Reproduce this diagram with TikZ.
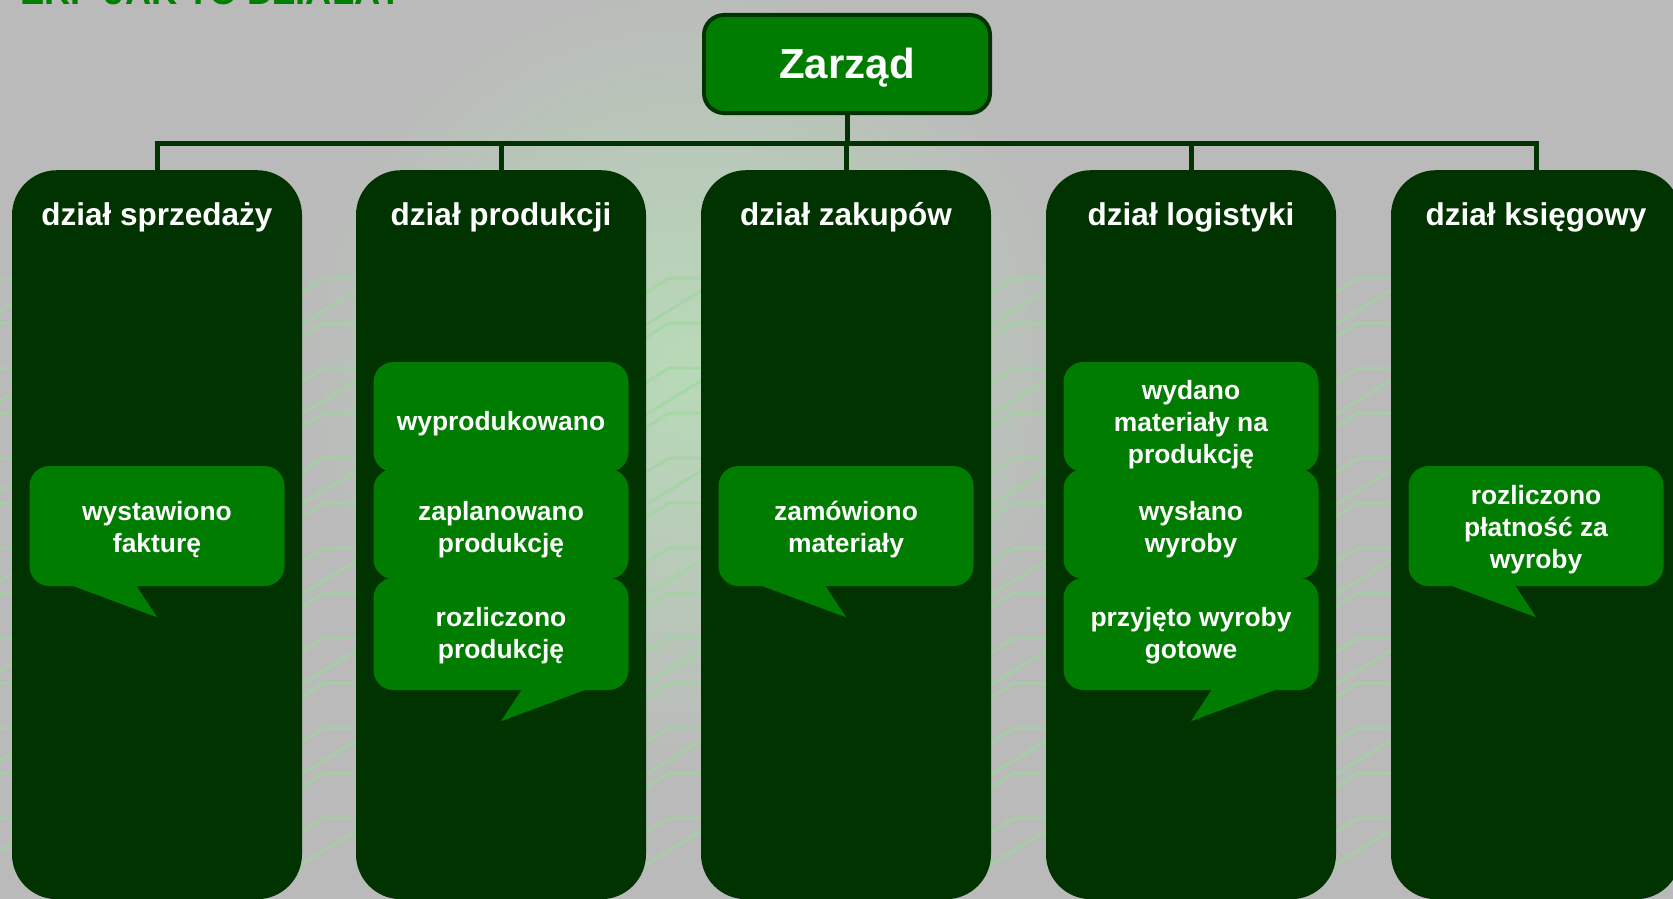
\documentclass[tikz,border=0pt]{standalone}
\usepackage{fontspec}
\setmainfont{Liberation Sans}
\usetikzlibrary{calc}
\definecolor{bg}{RGB}{186,186,186}
\definecolor{glow}{RGB}{184,218,184}
\definecolor{tracec}{RGB}{160,214,160}
\definecolor{darkg}{RGB}{0,51,0}
\definecolor{midg}{RGB}{0,125,0}
\definecolor{titleg}{RGB}{0,128,0}
\begin{document}
\begin{tikzpicture}[x=1pt,y=-1pt,
  colbox/.style={fill=darkg, rounded corners=45pt, minimum width=290pt, minimum height=729pt, anchor=north, inner sep=0pt},
  coltitle/.style={text=white, font=\bfseries\fontsize{31.5}{36}\selectfont, anchor=base},
  bub/.style={fill=midg, rounded corners=20pt, minimum width=255pt, inner sep=0pt},
  bubtext/.style={text=white, font=\bfseries\fontsize{26.4}{32}\selectfont, align=center, inner sep=0pt},
  link/.style={draw=darkg, line width=5pt, line join=miter},
  trace/.style={draw=tracec, line width=3pt, opacity=0.7}
]
\clip (0,0) rectangle (1673,899);
\fill[bg] (0,0) rectangle (1673,899);
\shade[inner color=glow, outer color=bg] (690,370) circle (400);
% circuit traces in the background
\foreach \gx in {6,329,674,1019,1363}{
  \foreach \yy in {300,345,...,880}{
    \draw[trace] (\gx-40,\yy) -- (\gx-5,\yy-22) -- (\gx+45,\yy-22);
  }
  \foreach \yy in {320,410,...,880}{
    \draw[trace] (\gx-45,\yy+15) -- (\gx+45,\yy-40);
  }
}
% title (cut off at the top)
\node[anchor=base west, text=titleg, font=\bfseries\fontsize{36.3}{40}\selectfont, inner sep=0pt] (title) at (20,5) {ERP JAK TO DZIAŁA?};
% columns
\node[colbox] (c1) at (157,170) {};
\node[colbox] (c2) at (501,170) {};
\node[colbox] (c3) at (846,170) {};
\node[colbox] (c4) at (1191,170) {};
\node[colbox] (c5) at (1536,170) {};
\node[coltitle] (t1) at (157,225) {dział sprzedaży};
\node[coltitle] (t2) at (501,225) {dział produkcji};
\node[coltitle] (t3) at (846,225) {dział zakupów};
\node[coltitle] (t4) at (1191,225) {dział logistyki};
\node[coltitle] (t5) at (1536,225) {dział księgowy};
% board
\node[fill=midg, draw=darkg, line width=4pt, rounded corners=20pt, minimum width=286pt, minimum height=98pt, inner sep=0pt] (z) at (847,64) {};
\node[anchor=base, text=white, font=\bfseries\fontsize{42}{50}\selectfont, inner sep=0pt] (zt) at (847,78) {Zarząd};
% connectors
\coordinate (hl) at (0,143);
\draw[link] (z.south) -- (z.south |- hl);
\draw[link] (c1.north) -- (c1.north |- hl) -- (c5.north |- hl) -- (c5.north);
\draw[link] (c2.north |- hl) -- (c2.north);
\draw[link] (c3.north |- hl) -- (c3.north);
\draw[link] (c4.north |- hl) -- (c4.north);
% single bubbles
\foreach \n/\cx in {b1/157, b3/846, b5/1536}{
  \node[bub, minimum height=120pt] (\n) at (\cx,526) {};
  \fill[midg] ($(\n.south)+(-86,-1)$) -- ($(\n.south)+(0,31)$) -- ($(\n.south)+(-21,-1)$) -- cycle;
}
\node[bubtext] (b1t) at (157,530) {wystawiono\\fakturę};
\node[bubtext] (b3t) at (846,530) {zamówiono\\materiały};
\node[bubtext] (b5t) at (1536,530) {rozliczono\\płatność za\\wyroby};
% stacked bubbles
\foreach \n/\cx in {b2/501, b4/1191}{
  \node[bub, minimum height=110pt] (\n a) at (\cx,417) {};
  \node[bub, minimum height=110pt] (\n b) at (\cx,524) {};
  \node[bub, minimum height=112pt] (\n c) at (\cx,634) {};
  \fill[midg] ($(\n c.south)+(21,-1)$) -- ($(\n c.south)+(0,31)$) -- ($(\n c.south)+(86,-1)$) -- cycle;
}
\node[bubtext] (b2at) at (501,424) {wyprodukowano};
\node[bubtext] (b2bt) at (501,530) {zaplanowano\\produkcję};
\node[bubtext] (b2ct) at (501,636) {rozliczono\\produkcję};
\node[bubtext] (b4at) at (1191,425) {wydano\\materiały na\\produkcję};
\node[bubtext] (b4bt) at (1191,530) {wysłano\\wyroby};
\node[bubtext] (b4ct) at (1191,636) {przyjęto wyroby\\gotowe};
\end{tikzpicture}
\end{document}
